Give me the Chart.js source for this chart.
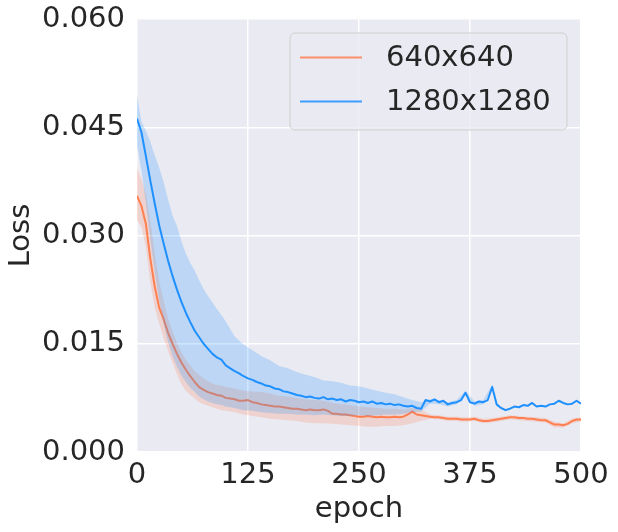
<!DOCTYPE html>
<html>
<head>
<meta charset="utf-8">
<script src="https://cdn.jsdelivr.net/npm/chart.js@4.4.1/dist/chart.umd.min.js"></script>
<style>
html,body{margin:0;padding:0;background:#ffffff;}
#wrap{width:618px;height:532px;}
</style>
</head>
<body>
<div id="wrap"><canvas id="c" width="618" height="532"></canvas></div>
<script>
// ---- data ----
const seriesLabels = ['640x640', '1280x1280'];
const xTicks = [0, 125, 250, 375, 500];
const yTicks = [0.000, 0.015, 0.030, 0.045, 0.060];

const epochs = [0,5,10,15,20,25,30,35,40,45,50,55,60,65,70,75,80,85,90,95,
100,105,110,115,120,125,130,135,140,145,150,155,160,165,170,175,180,185,190,195,
200,205,210,215,220,225,230,235,240,245,250,255,260,265,270,275,280,285,290,295,
300,305,310,315,320,325,330,335,340,345,350,355,360,365,370,375,380,385,390,395,
400,405,410,415,420,425,430,435,440,445,450,455,460,465,470,475,480,485,490,495,500];

const meanSmall = [0.0355,0.0341,0.0316,0.0268,0.0229,0.0200,0.0184,0.0165,0.0150,0.0136,
0.0124,0.0114,0.0105,0.0097,0.0090,0.0086,0.0083,0.0081,0.0079,0.0078,
0.0075,0.0074,0.0073,0.0071,0.0071,0.0072,0.0069,0.0068,0.0066,0.0065,
0.0064,0.0063,0.0063,0.0062,0.0061,0.0060,0.0060,0.0059,0.0058,0.0059,
0.0058,0.0058,0.0059,0.0057,0.0053,0.0053,0.0052,0.0052,0.0051,0.0050,
0.0049,0.0049,0.0050,0.0049,0.0048,0.0049,0.0048,0.0048,0.0049,0.0048,
0.0049,0.0052,0.0056,0.0052,0.0051,0.0050,0.0049,0.0048,0.0048,0.0047,
0.0046,0.0046,0.0046,0.0045,0.0045,0.0045,0.0046,0.0044,0.0043,0.0043,
0.0044,0.0045,0.0046,0.0047,0.0048,0.0048,0.0047,0.0047,0.0046,0.0046,
0.0045,0.0044,0.0044,0.0041,0.0038,0.0038,0.0037,0.0039,0.0043,0.0045,0.0045];

const meanLarge = [0.0462,0.0443,0.0410,0.0376,0.0344,0.0314,0.0289,0.0265,0.0244,0.0225,
0.0208,0.0193,0.0180,0.0168,0.0159,0.0150,0.0143,0.0136,0.0131,0.0128,
0.0120,0.0116,0.0112,0.0109,0.0105,0.0102,0.0100,0.0097,0.0095,0.0092,
0.0091,0.0088,0.0087,0.0084,0.0083,0.0081,0.0079,0.0078,0.0076,0.0077,
0.0075,0.0074,0.0076,0.0073,0.0074,0.0072,0.0073,0.0070,0.0072,0.0071,
0.0069,0.0070,0.0068,0.0070,0.0067,0.0068,0.0066,0.0067,0.0065,0.0066,
0.0064,0.0063,0.0064,0.0061,0.0060,0.0072,0.0070,0.0073,0.0069,0.0071,
0.0066,0.0068,0.0069,0.0072,0.0082,0.0069,0.0067,0.0070,0.0069,0.0072,
0.0090,0.0066,0.0061,0.0058,0.0060,0.0063,0.0062,0.0065,0.0064,0.0068,
0.0063,0.0064,0.0063,0.0066,0.0067,0.0071,0.0068,0.0066,0.0067,0.0071,0.0067];

const bandEpochsLarge = [0,5,10,15,20,25,30,35,40,45,50,55,60,65,70,75,80,85,90,95,100,
110,120,130,140,150,160,170,180,190,200,210,220,230,240,250,260,270,280,290,300,310,320,
330,340,350,360,370,380,390,400,405];
const upperLarge = [0.0494,0.0458,0.0445,0.0430,0.0411,0.0394,0.0374,0.0350,0.0328,0.0313,
0.0292,0.0275,0.0262,0.0251,0.0238,0.0226,0.0216,0.0207,0.0198,0.0190,0.0181,
0.0160,0.0149,0.0141,0.0133,0.0127,0.0119,0.0116,0.0111,0.0107,0.0104,0.0099,
0.0098,0.0096,0.0092,0.0091,0.0088,0.0085,0.0082,0.0080,0.0076,0.0072,0.0069,
0.0073,0.0072,0.0069,0.0072,0.0085,0.0070,0.0072,0.0094,0.0067];
const lowerLarge = [0.0425,0.0390,0.0345,0.0295,0.0250,0.0210,0.0178,0.0152,0.0133,0.0118,
0.0106,0.0097,0.0089,0.0083,0.0077,0.0073,0.0070,0.0068,0.0066,0.0065,0.0063,
0.0061,0.0058,0.0057,0.0055,0.0054,0.0053,0.0053,0.0052,0.0052,0.0051,0.0052,
0.0051,0.0050,0.0050,0.0051,0.0050,0.0051,0.0052,0.0052,0.0053,0.0055,0.0056,
0.0067,0.0066,0.0063,0.0066,0.0079,0.0064,0.0066,0.0086,0.0065];

const bandEpochsSmall = [0,5,10,15,20,25,30,35,40,45,50,55,60,65,70,75,80,85,90,95,100,
110,120,130,140,150,160,170,180,190,200,210,220,230,240,250,260,270,280,290,300,310,320,
330,340,350,360,370,380,390,400,410,420,430,440,450,460,470,480,490,500];
const upperSmall = [0.0394,0.0378,0.0358,0.0320,0.0275,0.0236,0.0210,0.0185,0.0167,0.0151,
0.0138,0.0128,0.0120,0.0112,0.0107,0.0102,0.0098,0.0095,0.0093,0.0092,0.0090,
0.0088,0.0085,0.0084,0.0083,0.0081,0.0078,0.0077,0.0075,0.0073,0.0072,0.0071,
0.0068,0.0066,0.0065,0.0063,0.0062,0.0061,0.0060,0.0060,0.0059,0.0061,0.0059,
0.0052,0.0051,0.0049,0.0049,0.0048,0.0049,0.0046,0.0047,0.0049,0.0051,0.0050,
0.0049,0.0048,0.0047,0.0042,0.0040,0.0046,0.0048];
const lowerSmall = [0.0321,0.0312,0.0284,0.0235,0.0200,0.0178,0.0158,0.0140,0.0124,0.0108,
0.0094,0.0085,0.0079,0.0074,0.0069,0.0066,0.0064,0.0062,0.0060,0.0058,0.0057,
0.0055,0.0052,0.0050,0.0048,0.0046,0.0045,0.0044,0.0043,0.0041,0.0040,0.0040,
0.0039,0.0038,0.0037,0.0036,0.0035,0.0035,0.0036,0.0036,0.0037,0.0040,0.0043,
0.0046,0.0045,0.0043,0.0043,0.0042,0.0043,0.0040,0.0041,0.0043,0.0045,0.0044,
0.0043,0.0042,0.0041,0.0034,0.0034,0.0040,0.0042];

// ---- styling ----
const colSmall = '#FF7F50';
const colLarge = '#1E90FF';
const bandSmall = 'rgba(255,127,80,0.22)';
const bandLarge = 'rgba(30,144,255,0.22)';
const FONT = {family: '"DejaVu Sans", sans-serif', size: 29};
const TXT = '#262626';

function pts(xs, ys){ return xs.map((x,i)=>({x:x, y:ys[i]})); }

const plotBg = {
  id: 'plotBg',
  beforeDraw(chart){
    const {ctx, chartArea:a} = chart;
    ctx.save();
    ctx.fillStyle = '#EAEAF2';
    ctx.fillRect(a.left, a.top, a.right-a.left, a.bottom-a.top);
    ctx.restore();
  }
};

const boxLegend = {
  id: 'boxLegend',
  afterDraw(chart){
    const {ctx, chartArea:a} = chart;
    const items = seriesLabels.map(l => chart.data.datasets.find(d => d.legendItem && d.label === l));
    const w = 277, h = 97;
    const x0 = a.right - 14 - w, y0 = a.top + 14;
    ctx.save();
    ctx.beginPath();
    ctx.roundRect(x0, y0, w, h, 5);
    ctx.fillStyle = 'rgba(234,234,242,0.8)';
    ctx.fill();
    ctx.lineWidth = 1;
    ctx.strokeStyle = 'rgba(204,204,204,0.9)';
    ctx.stroke();
    ctx.font = FONT.size + 'px ' + FONT.family;
    ctx.textBaseline = 'middle';
    ctx.textAlign = 'left';
    items.forEach((d, i) => {
      const yy = y0 + 24.5 + i * 44;
      ctx.beginPath();
      ctx.moveTo(x0 + 10, yy);
      ctx.lineTo(x0 + 72, yy);
      ctx.strokeStyle = d.borderColor;
      ctx.globalAlpha = 0.85;
      ctx.lineWidth = 2;
      ctx.stroke();
      ctx.globalAlpha = 1;
      ctx.fillStyle = TXT;
      ctx.fillText(d.label, x0 + 96, yy + 1);
    });
    ctx.restore();
  }
};

const lineBase = {pointRadius: 0, pointHoverRadius: 0, tension: 0, borderJoinStyle: 'round'};

function noPad(s){ s.paddingTop = 0; s.paddingBottom = 0; s.paddingLeft = 0; s.paddingRight = 0; }

new Chart(document.getElementById('c'), {
  type: 'line',
  data: {
    datasets: [
      Object.assign({label: seriesLabels[1], legendItem: true, data: pts(epochs, meanLarge),
        borderColor: colLarge, borderWidth: 2, fill: false, order: 0}, lineBase),
      Object.assign({label: seriesLabels[1] + ' upper', data: pts(bandEpochsLarge, upperLarge),
        borderWidth: 0, borderColor: 'rgba(0,0,0,0)', fill: false, order: 1}, lineBase),
      Object.assign({label: seriesLabels[1] + ' lower', data: pts(bandEpochsLarge, lowerLarge),
        borderWidth: 0, borderColor: 'rgba(0,0,0,0)', backgroundColor: bandLarge, fill: '-1', order: 1}, lineBase),
      Object.assign({label: seriesLabels[0], legendItem: true, data: pts(epochs, meanSmall),
        borderColor: colSmall, borderWidth: 2, fill: false, order: 2}, lineBase),
      Object.assign({label: seriesLabels[0] + ' upper', data: pts(bandEpochsSmall, upperSmall),
        borderWidth: 0, borderColor: 'rgba(0,0,0,0)', fill: false, order: 3}, lineBase),
      Object.assign({label: seriesLabels[0] + ' lower', data: pts(bandEpochsSmall, lowerSmall),
        borderWidth: 0, borderColor: 'rgba(0,0,0,0)', backgroundColor: bandSmall, fill: '-1', order: 3}, lineBase)
    ]
  },
  options: {
    responsive: false,
    animation: false,
    events: [],
    layout: {padding: {top: 19, right: 37, left: 0, bottom: 0}},
    plugins: {legend: {display: false}, tooltip: {enabled: false}},
    scales: {
      x: {
        type: 'linear', min: 0, max: 500,
        afterBuildTicks(s){ s.ticks = xTicks.map(v => ({value: v})); },
        ticks: {font: FONT, color: TXT, padding: 6, maxRotation: 0, autoSkip: false},
        grid: {color: '#ffffff', lineWidth: 1.5, drawTicks: false},
        border: {display: false},
        title: {display: true, text: 'epoch', font: FONT, color: TXT, padding: {top: 0, bottom: 5}},
        afterFit(s){ s.height = 80; noPad(s); }
      },
      y: {
        type: 'linear', min: 0, max: 0.06,
        afterBuildTicks(s){ s.ticks = yTicks.map(v => ({value: v})); },
        ticks: {font: FONT, color: TXT, padding: 12, callback: v => Number(v).toFixed(3)},
        grid: {color: '#ffffff', lineWidth: 1.5, drawTicks: false},
        border: {display: false},
        title: {display: true, text: 'Loss', font: FONT, color: TXT, padding: {top: 4, bottom: 0}},
        afterFit(s){ s.width = 137; noPad(s); }
      }
    }
  },
  plugins: [plotBg, boxLegend]
});
</script>
</body>
</html>
